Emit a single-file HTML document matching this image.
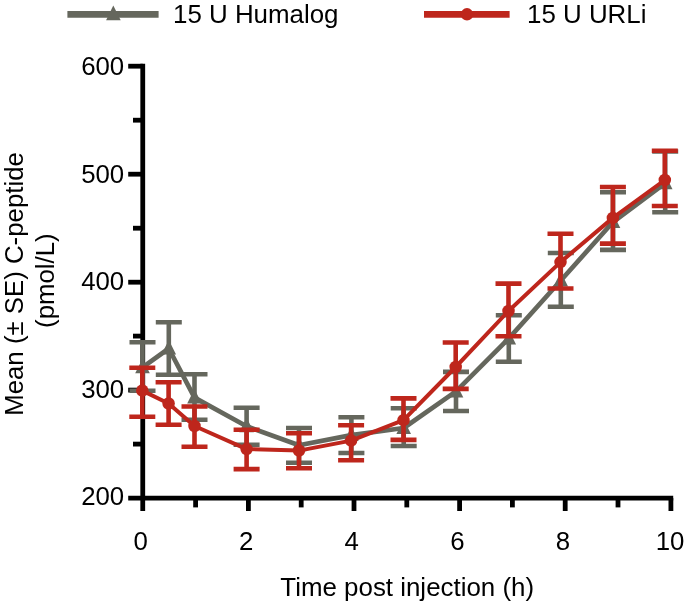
<!DOCTYPE html>
<html lang="en">
<head>
<meta charset="utf-8">
<title>Mean C-peptide vs time post injection</title>
<style>
html,body{margin:0;padding:0;background:#fff;}
body{width:685px;height:604px;overflow:hidden;}
svg{display:block;}
</style>
</head>
<body>
<svg width="685" height="604" viewBox="0 0 685 604">
<rect width="685" height="604" fill="#fff"/>
<g stroke="#000" stroke-width="4.8" fill="none">
<path d="M142.75 63.8V511.0"/>
<path d="M128.2 498.1H673.2"/>
<path d="M128.2 390.1H142.75"/>
<path d="M128.2 282.2H142.75"/>
<path d="M128.2 174.2H142.75"/>
<path d="M128.2 66.2H142.75"/>
<path d="M133 444.1H142.75"/>
<path d="M133 336.1H142.75"/>
<path d="M133 228.2H142.75"/>
<path d="M133 120.2H142.75"/>
<path d="M248.4 498.1V511.0"/>
<path d="M354.0 498.1V511.0"/>
<path d="M459.6 498.1V511.0"/>
<path d="M565.2 498.1V511.0"/>
<path d="M670.9 498.1V511.0"/>
<path d="M195.6 498.1V507.4"/>
<path d="M301.2 498.1V507.4"/>
<path d="M406.8 498.1V507.4"/>
<path d="M512.4 498.1V507.4"/>
<path d="M618.0 498.1V507.4"/>
</g>
<g stroke="#65675d" stroke-width="4.6" fill="none" stroke-linecap="butt" stroke-linejoin="miter">
<path d="M142.5 342.2V390.8M129.5 342.2H155.5M129.5 390.8H155.5"/>
<path d="M168.8 322.2V374.7M155.8 322.2H181.8M155.8 374.7H181.8"/>
<path d="M194.5 374.2V419.7M181.5 374.2H207.5M181.5 419.7H207.5"/>
<path d="M246.6 407.8V444.7M233.6 407.8H259.6M233.6 444.7H259.6"/>
<path d="M299.0 428.0V462.7M286.0 428.0H312.0M286.0 462.7H312.0"/>
<path d="M351.4 417.2V453.0M338.4 417.2H364.4M338.4 453.0H364.4"/>
<path d="M403.7 408.3V446.0M390.7 408.3H416.7M390.7 446.0H416.7"/>
<path d="M456.0 371.9V411.0M443.0 371.9H469.0M443.0 411.0H469.0"/>
<path d="M508.8 315.3V361.7M495.8 315.3H521.8M495.8 361.7H521.8"/>
<path d="M560.8 253.0V306.7M547.8 253.0H573.8M547.8 306.7H573.8"/>
<path d="M613.0 192.3V249.9M600.0 192.3H626.0M600.0 249.9H626.0"/>
<path d="M665.2 151.5V212.3M652.2 151.5H678.2M652.2 212.3H678.2"/>
<polyline points="142.5,367.3 168.8,348.5 194.5,397.6 246.6,426.2 299.0,445.3 351.4,435.1 403.7,428.0 456.0,391.4 508.8,338.5 560.8,280.5 613.0,222.0 665.2,183.2" stroke-width="4.7" stroke-linejoin="round"/>
</g>
<g fill="#65675d">
<path d="M142.5 358.7L149.8 373.3H135.2Z"/>
<path d="M168.8 339.9L176.1 354.5H161.5Z"/>
<path d="M194.5 389.0L201.8 403.6H187.2Z"/>
<path d="M246.6 417.6L253.9 432.2H239.3Z"/>
<path d="M299.0 436.7L306.3 451.3H291.7Z"/>
<path d="M351.4 426.5L358.7 441.1H344.1Z"/>
<path d="M403.7 419.4L411.0 434.0H396.4Z"/>
<path d="M456.0 382.8L463.3 397.4H448.7Z"/>
<path d="M508.8 329.9L516.1 344.5H501.5Z"/>
<path d="M560.8 271.9L568.1 286.5H553.5Z"/>
<path d="M613.0 213.4L620.3 228.0H605.7Z"/>
<path d="M665.2 174.6L672.5 189.2H657.9Z"/>
</g>
<g stroke="#be261c" stroke-width="4.6" fill="none" stroke-linecap="butt" stroke-linejoin="miter">
<path d="M142.3 367.7V416.7M129.3 367.7H155.3M129.3 416.7H155.3"/>
<path d="M168.6 382.2V424.7M155.6 382.2H181.6M155.6 424.7H181.6"/>
<path d="M194.5 406.5V446.7M181.5 406.5H207.5M181.5 446.7H207.5"/>
<path d="M246.6 429.7V469.1M233.6 429.7H259.6M233.6 469.1H259.6"/>
<path d="M299.0 433.3V468.3M286.0 433.3H312.0M286.0 468.3H312.0"/>
<path d="M351.1 425.3V460.3M338.1 425.3H364.1M338.1 460.3H364.1"/>
<path d="M403.5 398.4V439.9M390.5 398.4H416.5M390.5 439.9H416.5"/>
<path d="M455.7 342.5V388.9M442.7 342.5H468.7M442.7 388.9H468.7"/>
<path d="M508.5 283.6V336.3M495.5 283.6H521.5M495.5 336.3H521.5"/>
<path d="M560.5 233.7V288.5M547.5 233.7H573.5M547.5 288.5H573.5"/>
<path d="M612.9 187.0V243.6M599.9 187.0H625.9M599.9 243.6H625.9"/>
<path d="M664.8 150.8V206.0M651.8 150.8H677.8M651.8 206.0H677.8"/>
<polyline points="142.3,390.6 168.6,403.5 194.5,426.0 246.6,449.1 299.0,450.6 351.1,440.6 403.5,420.2 455.7,367.0 508.5,311.0 560.5,262.1 612.9,217.9 664.8,180.0" stroke-width="4.0" stroke-linejoin="round"/>
</g>
<g fill="#be261c">
<circle cx="142.3" cy="390.6" r="6.25"/>
<circle cx="168.6" cy="403.5" r="6.25"/>
<circle cx="194.5" cy="426.0" r="6.25"/>
<circle cx="246.6" cy="449.1" r="6.25"/>
<circle cx="299.0" cy="450.6" r="6.25"/>
<circle cx="351.1" cy="440.6" r="6.25"/>
<circle cx="403.5" cy="420.2" r="6.25"/>
<circle cx="455.7" cy="367.0" r="6.25"/>
<circle cx="508.5" cy="311.0" r="6.25"/>
<circle cx="560.5" cy="262.1" r="6.25"/>
<circle cx="612.9" cy="217.9" r="6.25"/>
<circle cx="664.8" cy="180.0" r="6.25"/>
</g>
<g>
<path d="M67.4 14.35H158.6" stroke="#65675d" stroke-width="6.8"/>
<path d="M113.3 5.5L120.7 20.3H106.1Z" fill="#65675d"/>
<path d="M424 14.4H509.6" stroke="#be261c" stroke-width="6.8"/>
<circle cx="467" cy="14.3" r="6.2" fill="#be261c"/>
</g>
<g font-family="&quot;Liberation Sans&quot;, Arial, Helvetica, sans-serif" font-size="25.8" fill="#000">
<text x="124.2" y="505.4" text-anchor="end">200</text>
<text x="124.2" y="397.8" text-anchor="end">300</text>
<text x="124.2" y="290.2" text-anchor="end">400</text>
<text x="124.2" y="182.7" text-anchor="end">500</text>
<text x="124.2" y="75.1" text-anchor="end">600</text>
<text x="140.6" y="549.6" text-anchor="middle">0</text>
<text x="246.2" y="549.6" text-anchor="middle">2</text>
<text x="351.8" y="549.6" text-anchor="middle">4</text>
<text x="457.4" y="549.6" text-anchor="middle">6</text>
<text x="563.0" y="549.6" text-anchor="middle">8</text>
<text x="670.1" y="549.6" text-anchor="middle">10</text>
<text x="407.2" y="595.8" text-anchor="middle" font-size="25.9">Time post injection (h)</text>
<text transform="translate(22.5 284.0) rotate(-90)" text-anchor="middle">Mean (± SE) C-peptide</text>
<text transform="translate(54.2 280.6) rotate(-90)" text-anchor="middle">(pmol/L)</text>
<text x="173.0" y="22.6" font-size="25.9">15 U Humalog</text>
<text x="527.0" y="22.5" font-size="25.9">15 U URLi</text>
</g>
</svg>
</body>
</html>
